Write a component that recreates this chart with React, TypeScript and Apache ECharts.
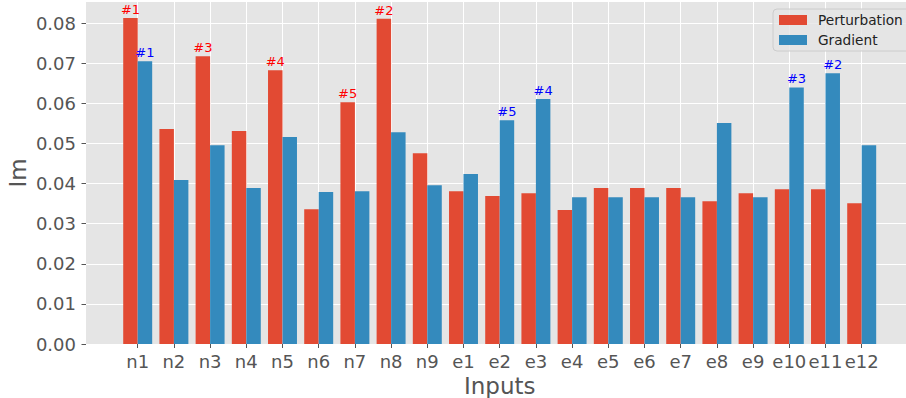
import React, { useEffect, useRef } from "react";
import * as echarts from "echarts";

const categories = [
  "n1", "n2", "n3", "n4", "n5", "n6", "n7", "n8", "n9",
  "e1", "e2", "e3", "e4", "e5", "e6", "e7", "e8", "e9", "e10", "e11", "e12",
];

const perturbation = [
  0.0813, 0.0536, 0.0718, 0.0531, 0.0683, 0.0336, 0.0603, 0.0811, 0.0476,
  0.0381, 0.0369, 0.0376, 0.0334, 0.0389, 0.0389, 0.0389, 0.0356, 0.0376, 0.0386, 0.0386, 0.0351,
];

const gradient = [
  0.0705, 0.0409, 0.0496, 0.0389, 0.0516, 0.0379, 0.0381, 0.0528, 0.0396,
  0.0424, 0.0558, 0.0611, 0.0366, 0.0366, 0.0366, 0.0366, 0.0551, 0.0366, 0.0640, 0.0675, 0.0496,
];

const perturbationRank = [
  "#1", "", "#3", "", "#4", "", "#5", "#2", "",
  "", "", "", "", "", "", "", "", "", "", "", "",
];

const gradientRank = [
  "#1", "", "", "", "", "", "", "", "",
  "", "#5", "#4", "", "", "", "", "", "", "#3", "#2", "",
];

const yTicks = [0, 0.01, 0.02, 0.03, 0.04, 0.05, 0.06, 0.07, 0.08];
const yMax = 0.0853;

const FONT = "DejaVu Sans";

export default function App() {
  const ref = useRef<HTMLDivElement>(null);

  useEffect(() => {
    if (!ref.current) return;
    const chart = echarts.init(ref.current, undefined, { renderer: "svg" });
    const option: any = {
      animation: false,
      textStyle: { fontFamily: FONT },
      graphic: [
        {
          type: "rect",
          z: -10,
          silent: true,
          shape: { x: 86, y: 2, width: 830, height: 342 },
          style: { fill: "#E5E5E5" },
        },
        {
          type: "text",
          x: 18,
          y: 173,
          rotation: Math.PI / 2,
          style: {
            text: "Im",
            fontSize: 23,
            fontFamily: FONT,
            fill: "#555555",
            align: "center",
            verticalAlign: "middle",
          },
        },
      ],
      legend: {
        orient: "vertical",
        left: 773,
        top: 9,
        itemWidth: 28,
        itemHeight: 10,
        itemGap: 6,
        icon: "rect",
        padding: [4, 20, 4, 6],
        backgroundColor: "rgba(229,229,229,0.8)",
        borderColor: "#cccccc",
        borderWidth: 1,
        borderRadius: 4,
        textStyle: {
          fontSize: 13.7,
          color: "#222222",
          fontFamily: FONT,
          lineHeight: 14,
          padding: [0, 0, 0, 6],
        },
        data: ["Perturbation", "Gradient"],
      },
      grid: [
        { left: 86, top: 2, width: 830, height: 342, show: false, outerBoundsMode: "none", containLabel: false },
        { left: 137.7, top: 2, width: 724, height: 342, show: false, outerBoundsMode: "none", containLabel: false },
      ],
      xAxis: [
        { gridIndex: 0, type: "value", min: 0, max: 1, show: false },
        {
          gridIndex: 1,
          type: "category",
          data: categories,
          boundaryGap: false,
          axisLine: { show: false },
          axisTick: { show: true, length: 4, interval: 0, lineStyle: { color: "#555555" } },
          axisLabel: { interval: 0, color: "#555555", fontSize: 18, margin: 8, fontFamily: FONT },
          splitLine: { show: true, interval: 0, lineStyle: { color: "#ffffff", width: 1 } },
          name: "Inputs",
          nameLocation: "middle",
          nameGap: 24,
          nameTextStyle: { fontSize: 23, color: "#555555", fontFamily: FONT },
        },
      ],
      yAxis: [
        {
          gridIndex: 0,
          type: "value",
          min: 0,
          max: yMax,
          interval: 0.01,
          axisLine: { show: false },
          axisTick: {
            show: true,
            length: 4.5,
            customValues: yTicks,
            lineStyle: { color: "#555555" },
          },
          axisLabel: {
            color: "#555555",
            fontSize: 18,
            margin: 10,
            fontFamily: FONT,
            customValues: yTicks,
            formatter: (v: number) => v.toFixed(2),
          },
          splitLine: {
            show: true,
            lineStyle: { color: "#ffffff", width: 1 },
          },
        },
        { gridIndex: 1, type: "value", min: 0, max: yMax, show: false },
      ],
      series: [
        {
          name: "Perturbation",
          type: "bar",
          xAxisIndex: 1,
          yAxisIndex: 1,
          data: perturbation,
          barWidth: "40%",
          barGap: "0%",
          clip: false,
          itemStyle: { color: "#E24A33" },
          label: {
            show: true,
            position: "top",
            distance: 2,
            color: "#ff0000",
            fontSize: 13,
            fontFamily: FONT,
            formatter: (p: any) => perturbationRank[p.dataIndex],
          },
        },
        {
          name: "Gradient",
          type: "bar",
          xAxisIndex: 1,
          yAxisIndex: 1,
          data: gradient,
          barWidth: "40%",
          barGap: "0%",
          clip: false,
          itemStyle: { color: "#348ABD" },
          label: {
            show: true,
            position: "top",
            distance: 2,
            color: "#0000ff",
            fontSize: 13,
            fontFamily: FONT,
            formatter: (p: any) => gradientRank[p.dataIndex],
          },
        },
      ],
    };
    chart.setOption(option);
    return () => chart.dispose();
  }, []);

  return (
    <div
      ref={ref}
      style={{ position: "absolute", left: 0, top: 0, width: 906, height: 398 }}
    />
  );
}
